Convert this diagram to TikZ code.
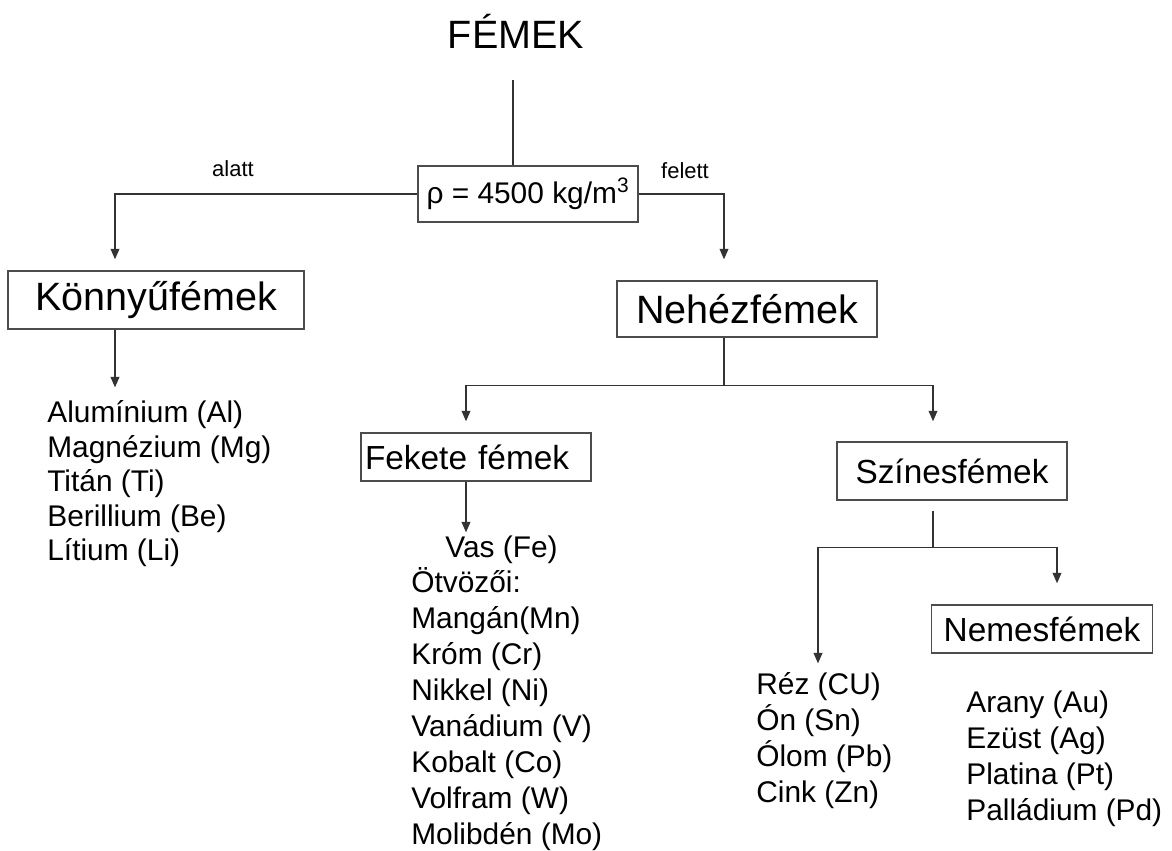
\documentclass[tikz,border=0pt]{standalone}
\usepackage{fontspec}
\setmainfont{Liberation Sans}
\usetikzlibrary{arrows.meta}

\begin{document}
\begin{tikzpicture}[x=0.02cm,y=0.02cm,
	box/.style={draw=black!70,line width=0.8pt,inner sep=0pt,align=center},
	line/.style={draw=black!80,line width=0.8pt},
	arr/.style={line,-{Triangle[width=5pt,length=6pt]}},
	item/.style={anchor=west,inner sep=0pt,text height=0.73em,text depth=0.21em,font=\fontsize{17}{20}\selectfont}]
	\useasboundingbox (0,0) rectangle (1172,-851);
	% x of the vertical connectors
	\coordinate (tx) at (513,0);
	\coordinate (kx) at (115,0);
	\coordinate (nx) at (724,0);
	\coordinate (fx) at (466,0);
	\coordinate (sx) at (933,0);
	\coordinate (rx) at (818,0);
	\coordinate (mx) at (1057,0);
	% boxes
	\node[anchor=base,inner sep=0pt,font=\fontsize{22.5}{27}\selectfont] (femek) at (516,-49) {FÉMEK};
	\node[box,minimum width=4.4cm,minimum height=1.12cm,font=\fontsize{17}{20}\selectfont] (rho) at (528,-194) {ρ = 4500 kg/m\textsuperscript{3}};
	\node[font=\fontsize{12.5}{15}\selectfont] (alatt) at (233,-169) {alatt};
	\node[font=\fontsize{12.5}{15}\selectfont] (felett) at (685,-171) {felett};
	\node[box,minimum width=5.92cm,minimum height=1.16cm,font=\fontsize{22.5}{27}\selectfont] (konnyu) at (156,-300) {Könnyűfémek};
	\node[box,minimum width=5.2cm,minimum height=1.12cm,font=\fontsize{22.5}{27}\selectfont] (nehez) at (747,-309) {Nehézfémek};
	\node[box,text width=4.44cm,inner xsep=0.08cm,align=left,minimum height=0.96cm,font=\fontsize{19}{23}\selectfont] (fekete) at (476,-457) {Fekete fémek};
	\node[box,minimum width=4.6cm,minimum height=1.16cm,font=\fontsize{19}{23}\selectfont] (szines) at (952,-471) {Színesfémek};
	\node[box,minimum width=4.42cm,minimum height=0.96cm,font=\fontsize{19}{23}\selectfont] (nemes) at (1042,-629) {Nemesfémek};
	% lists
	\foreach \t [count=\i] in {Alumínium (Al),Magnézium (Mg),Titán (Ti),Berillium (Be),Lítium (Li)}
		\node[item] (kl\i) at (47,{-418-34.5*(\i-1)}) {\t};
	\node[item] (fl1) at (445,-553) {Vas (Fe)};
	\foreach \t [count=\i from 2] in {Ötvözői:,Mangán(Mn),Króm (Cr),Nikkel (Ni),Vanádium (V),Kobalt (Co),Volfram (W),Molibdén (Mo)}
		\node[item] (fl\i) at (411,{-588-36*(\i-2)}) {\t};
	\foreach \t [count=\i] in {Réz (CU),Ón (Sn),Ólom (Pb),Cink (Zn)}
		\node[item] (rl\i) at (756,{-690-36*(\i-1)}) {\t};
	\foreach \t [count=\i] in {Arany (Au),Ezüst (Ag),Platina (Pt),Palládium (Pd)}
		\node[item] (nl\i) at (966,{-708-36*(\i-1)}) {\t};
	% connectors
	\draw[line,shorten <=0.62cm] (femek.south -| tx) -- (rho.north -| tx);
	\draw[arr,shorten >=0.22cm] (rho.west) -| (konnyu.north -| kx);
	\draw[arr,shorten >=0.42cm] (rho.east) -| (nehez.north -| nx);
	\draw[arr,shorten >=0.44cm] (konnyu.south -| kx) -- (kl1.north -| kx);
	\draw[line] (nehez.south -| nx) -- ++(0,-48) coordinate (nsplit);
	\draw[arr,shorten >=0.22cm] (nsplit) -| (fekete.north -| fx);
	\draw[arr,shorten >=0.4cm] (nsplit) -| (szines.north -| sx);
	\draw[arr,shorten >=0.24cm] (fekete.south -| fx) -- (fl1.north -| fx);
	\draw[line,shorten <=0.2cm] (szines.south -| sx) -- ++(0,-47) coordinate (ssplit);
	\draw[arr,shorten >=0.36cm] (ssplit) -| (rl1.north -| rx);
	\draw[arr,shorten >=0.42cm] (ssplit) -| (nemes.north -| mx);
\end{tikzpicture}
\end{document}
